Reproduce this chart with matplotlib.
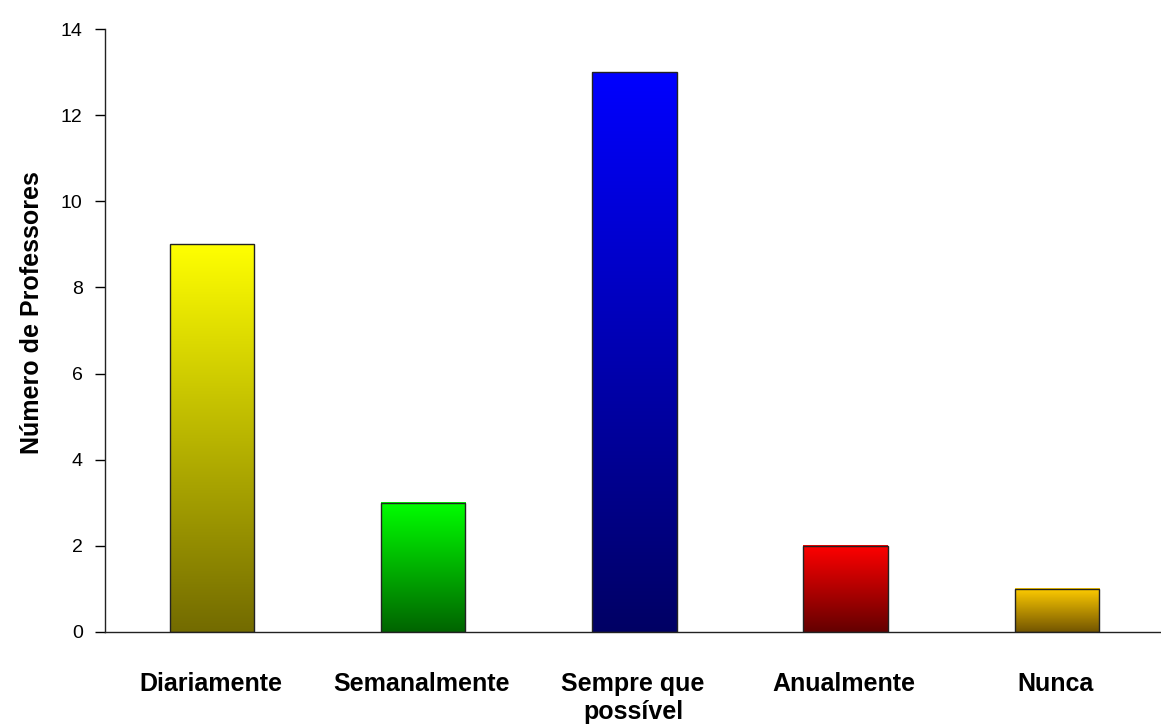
import numpy as np
import matplotlib.pyplot as plt
from matplotlib.colors import to_rgb

categorias = ['Diariamente', 'Semanalmente', 'Sempre que\npossível', 'Anualmente', 'Nunca']
professores = [9, 3, 13, 2, 1]
cor_topo = ['#ffff00', '#00ff00', '#0000ff', '#ff0000', '#ffcc00']
cor_base = ['#736b00', '#006400', '#000064', '#640000', '#735500']

plt.rcParams['font.family'] = ['Liberation Sans', 'DejaVu Sans']

fig = plt.figure(figsize=(11.61, 7.27), dpi=100)
ax = fig.add_axes([0.0904, 0.1307, 0.9096, 0.8293])

x = np.arange(len(categorias))
largura = 0.4
barras = ax.bar(x + 0.007, professores, width=largura, color='none', edgecolor='#222222',
                linewidth=1.0, zorder=3)

# gradiente vertical dentro de cada barra (claro em cima, escuro em baixo)
t = np.linspace(0, 1, 256)[:, None]
for b, c1, c2 in zip(barras, cor_topo, cor_base):
    c1, c2 = np.array(to_rgb(c1)), np.array(to_rgb(c2))
    grad = c2 + (c1 - c2) * t  # linha 0 = base
    grad = np.repeat(grad[:, None, :], 2, axis=1).reshape(256, 2, 3)
    x0 = b.get_x()
    ax.imshow(grad, extent=[x0, x0 + b.get_width(), 0, b.get_height()],
              origin='lower', aspect='auto', zorder=2, interpolation='bilinear')

ax.set_xlim(-0.5, len(categorias) - 0.5)
ax.set_ylim(0, 14)
ax.set_yticks(range(0, 15, 2))
ax.set_xticks(x)
ax.set_xticklabels(categorias, fontsize=18, fontweight='bold', linespacing=1.2)
ax.tick_params(axis='x', length=0, pad=29)
ax.tick_params(axis='y', length=7, width=1, labelsize=14, pad=9)
ax.set_ylabel('Número de Professores', fontsize=18, fontweight='bold')
ax.yaxis.set_label_coords(-0.058, 0.53)

for s in ['top', 'right']:
    ax.spines[s].set_visible(False)
for s in ['left', 'bottom']:
    ax.spines[s].set_color('#222222')
    ax.spines[s].set_linewidth(1.0)

fig.savefig('out.png', dpi=100)
